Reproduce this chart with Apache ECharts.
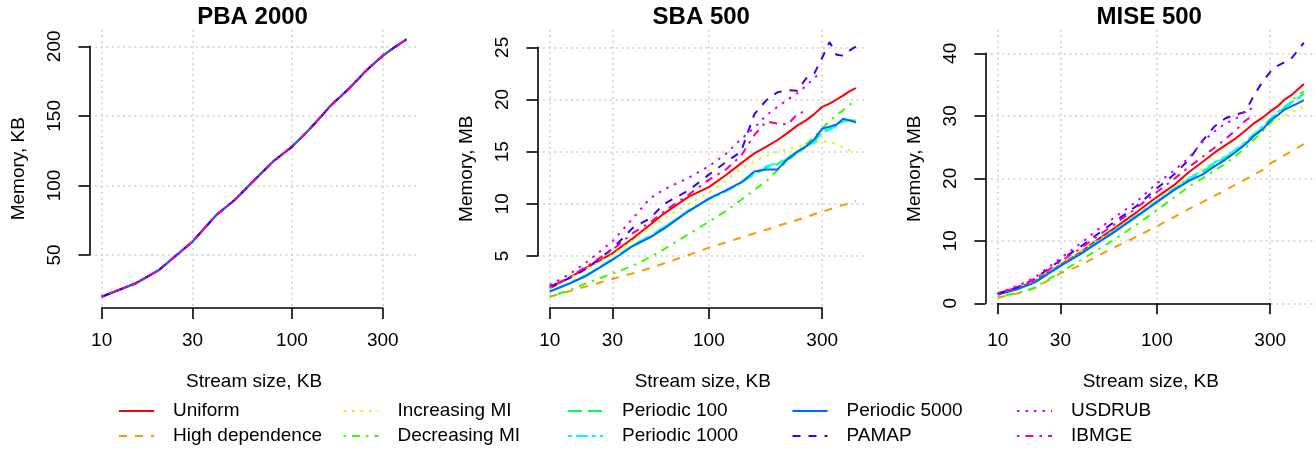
<!DOCTYPE html>
<html>
<head>
<meta charset="utf-8">
<script src="https://cdn.jsdelivr.net/npm/echarts@6/dist/echarts.min.js"></script>
<style>
  html, body { margin: 0; padding: 0; background: #ffffff; }
  #chart { width: 1316px; height: 450px; }
</style>
</head>
<body>
<div id="chart"></div>
<script>
// Stream sizes (KB) shared by every curve
const streamSizes = [10, 15, 20, 30, 40, 50, 60, 80, 100, 120, 140, 160, 180, 200, 220, 240, 260, 280, 300, 320, 340, 360, 380, 400];
const xTickValues = [10, 30, 100, 300];

const seriesNames = ['Uniform', 'High dependence', 'Increasing MI', 'Decreasing MI', 'Periodic 100',
                     'Periodic 1000', 'Periodic 5000', 'PAMAP', 'USDRUB', 'IBMGE'];
const seriesColors = ['#FF0000', '#FF9900', '#CCFF00', '#33FF00', '#00FF66',
                      '#00FFFF', '#0066FF', '#3300FF', '#CC00FF', '#FF0099'];
const seriesLineTypes = ['solid', 'dashed', 'dotted', 'dotdash', 'longdash',
                         'twodash', 'solid', 'dashed', 'dotted', 'dotdash'];

// PBA 2000: memory (KB) is the same for every stream type
const pbaMemory = [20, 29.5, 39.2, 59.6, 78.7, 89.5, 100.5, 117.5, 127.8, 138.5, 148.5, 157.5,
                   163.9, 169.9, 175.7, 181.2, 185.7, 189.6, 193.2, 196, 198.6, 200.9, 203, 205];

// SBA 500: memory (MB)
const sbaUniform  = [1.9, 2.96, 3.88, 5.26, 6.69, 7.97, 9.09, 10.69, 11.6, 12.76, 13.88, 14.84, 15.48, 16.12, 16.8, 17.5, 18.0, 18.6, 19.3, 19.6, 20.0, 20.4, 20.8, 21.1];
const sbaHighDep  = [1.1, 1.65, 2.09, 2.8, 3.34, 3.82, 4.3, 5.1, 5.8, 6.31, 6.76, 7.17, 7.52, 7.88, 8.17, 8.45, 8.72, 9.0, 9.24, 9.47, 9.68, 9.89, 10.08, 10.27];
const sbaIncMI    = [1.9, 2.9, 3.8, 5.1, 6.5, 7.7, 8.6, 10.0, 11.1, 12.2, 13.4, 14.1, 14.6, 15.0, 15.2, 15.5, 15.7, 15.9, 16.0, 15.95, 15.7, 15.4, 15.1, 14.8];
const sbaDecMI    = [1.1, 1.74, 2.38, 3.31, 4.07, 4.87, 5.67, 7.11, 8.29, 9.31, 10.37, 11.33, 12.19, 13.24, 14.1, 14.94, 15.7, 16.44, 17.2, 17.94, 18.5, 18.99, 19.5, 19.95];
const sbaP100     = [1.6, 2.4, 3.15, 4.7, 6.05, 6.9, 7.8, 9.3, 10.5, 11.3, 12.0, 12.8, 13.5, 13.8, 14.3, 14.9, 15.4, 16.0, 16.9, 17.2, 17.5, 17.9, 18.0, 18.0];
const sbaP1000    = [1.65, 2.45, 3.2, 4.7, 6.0, 6.85, 7.75, 9.4, 10.4, 11.2, 12.0, 12.9, 13.6, 13.9, 14.4, 15.0, 15.5, 15.9, 16.8, 17.1, 17.5, 17.9, 18.0, 17.9];
const sbaP5000    = [1.58, 2.38, 3.11, 4.62, 5.96, 6.76, 7.65, 9.31, 10.5, 11.3, 12.05, 13.1, 13.3, 13.3, 14.3, 15.0, 15.5, 16.2, 17.2, 17.4, 17.6, 18.15, 18.0, 17.8];
const sbaPAMAP    = [2.06, 2.9, 3.8, 5.7, 7.7, 8.6, 10.0, 11.3, 12.8, 14.0, 15.0, 18.6, 19.95, 20.7, 20.9, 20.85, 22.0, 22.5, 24.0, 25.5, 24.3, 24.2, 24.7, 25.06];
const sbaUSDRUB   = [2.2, 3.3, 4.4, 6.4, 8.6, 10.5, 11.4, 12.5, 13.6, 14.8, 16.2, 17.3, 18.5, 19.3, 20.0, 20.6, 21.3, 22.1, 22.6, null, null, null, null, null];
const sbaIBMGE    = [2.0, 3.0, 4.0, 5.6, 7.2, 8.2, 9.3, 10.9, 12.3, 13.3, 14.6, 16.6, 17.9, 17.7, 17.6, 18.6, 18.9, null, null, null, null, null, null, null];

// MISE 500: memory (MB)
const miseUniform = [1.6, 2.5, 3.5, 6.2, 8.2, 10.2, 11.8, 14.6, 17.0, 18.9, 21.0, 22.6, 24.1, 25.3, 26.4, 27.6, 28.8, 29.7, 30.7, 31.5, 32.6, 33.3, 34.2, 35.1];
const miseHighDep = [0.9, 1.6, 2.4, 4.8, 6.1, 7.6, 8.8, 10.7, 12.3, 13.8, 15.1, 16.2, 17.2, 18.1, 19.0, 19.8, 20.6, 21.3, 22.4, 23.0, 23.7, 24.3, 24.9, 25.5];
const miseIncMI   = [1.5, 2.5, 3.6, 6.3, 8.3, 10.1, 11.5, 14.2, 16.5, 18.5, 20.0, 21.6, 22.6, 23.5, 24.5, 25.5, 26.6, 27.5, 28.6, 29.3, 30.0, 30.5, 31.0, 31.5];
const miseDecMI   = [1.0, 1.7, 2.5, 5.0, 6.9, 8.6, 10.0, 12.6, 14.9, 16.9, 18.7, 20.0, 21.3, 22.3, 23.6, 24.8, 26.2, 27.5, 28.9, 30.0, 31.3, 32.4, 33.3, 33.9];
const miseP100    = [1.4, 2.3, 3.3, 6.0, 8.0, 9.8, 11.3, 14.0, 16.3, 18.2, 19.9, 21.0, 22.3, 23.3, 24.4, 25.6, 27.0, 28.1, 29.4, 30.4, 31.3, 32.0, 32.8, 33.5];
const miseP1000   = [1.45, 2.35, 3.35, 6.1, 8.0, 9.9, 11.4, 14.1, 16.4, 18.4, 20.0, 21.2, 22.5, 23.5, 24.6, 25.8, 27.1, 28.3, 29.5, 30.6, 31.5, 32.2, 32.8, 33.2];
const miseP5000   = [1.4, 2.3, 3.3, 6.0, 7.9, 9.7, 11.2, 13.9, 16.2, 18.1, 19.6, 20.6, 21.9, 23.0, 24.2, 25.4, 26.8, 27.8, 29.2, 30.1, 31.0, 31.5, 32.0, 32.5];
const misePAMAP   = [1.5, 2.6, 3.9, 6.9, 9.1, 11.1, 12.8, 15.6, 18.4, 20.6, 23.0, 26.0, 28.3, 29.6, 30.2, 30.6, 33.3, 35.4, 37.0, 38.0, 38.6, 39.2, 40.4, 41.7];
const miseUSDRUB  = [1.6, 2.8, 4.1, 7.2, 9.6, 11.8, 13.5, 16.3, 19.2, 21.2, 23.3, 25.8, 27.5, 28.8, 29.5, 30.8, 31.3, null, null, null, null, null, null, null];
const miseIBMGE   = [1.5, 2.6, 3.8, 6.7, 8.8, 10.8, 12.4, 15.3, 17.8, 19.9, 21.8, 23.4, 24.9, 26.3, 27.7, 29.2, 30.2, null, null, null, null, null, null, null];

const sbaValues  = [sbaUniform, sbaHighDep, sbaIncMI, sbaDecMI, sbaP100, sbaP1000, sbaP5000, sbaPAMAP, sbaUSDRUB, sbaIBMGE];
const miseValues = [miseUniform, miseHighDep, miseIncMI, miseDecMI, miseP100, miseP1000, miseP5000, misePAMAP, miseUSDRUB, miseIBMGE];
const pbaValues  = seriesNames.map(() => pbaMemory);

// R-style dash patterns (lwd 2)
const dashPatterns = {
  solid: 'solid',
  dashed: [8, 8],
  dotted: [2.5, 6],
  dotdash: [2.5, 6, 8, 6],
  longdash: [14, 6],
  twodash: [4, 4, 12, 4]
};

const FONT = 'Liberation Sans, Arial, Helvetica, sans-serif';
const PLOT_TOP = 29.5, PLOT_BOTTOM = 308;

// x positions: log scale for PBA, squared-log scale for SBA / MISE
const logScale   = { fwd: v => Math.log10(v), inv: t => Math.pow(10, t) };
const logSqScale = { fwd: v => Math.pow(Math.log10(v), 2), inv: t => Math.pow(10, Math.sqrt(t)) };

const panels = [
  { title: 'PBA 2000', yName: 'Memory, KB', scale: logScale,   xLim: [0.936, 2.666], yLim: [11.9, 212.1],
    yTicks: [50, 100, 150, 200], left: 89.5, right: 418.7, values: pbaValues },
  { title: 'SBA 500',  yName: 'Memory, MB', scale: logSqScale, xLim: [0.768, 7.002], yLim: [0.017, 26.71],
    yTicks: [5, 10, 15, 20, 25], left: 537.4, right: 868.1, values: sbaValues },
  { title: 'MISE 500', yName: 'Memory, MB', scale: logSqScale, xLim: [0.768, 7.002], yLim: [-0.75, 43.81],
    yTicks: [0, 10, 20, 30, 40], left: 985.4, right: 1316.1, values: miseValues }
];

const grids = [], xAxes = [], yAxes = [], titles = [], series = [];
const axisColor = '#000000';
const gridLine = { show: true, lineStyle: { color: '#cfcfcf', width: 1.5, type: [2, 3.6] } };

// plot regions (hold the curves and the dotted reference grid)
panels.forEach((p, k) => {
  const xTicksT = xTickValues.map(p.scale.fwd);
  grids.push({ left: p.left, top: PLOT_TOP, width: p.right - p.left, height: PLOT_BOTTOM - PLOT_TOP,
               outerBoundsMode: 'none', containLabel: false });
  xAxes.push({
    type: 'value', gridIndex: k, min: p.xLim[0], max: p.xLim[1],
    axisLine: { show: false },
    axisTick: { show: false, customValues: xTicksT },
    axisLabel: { show: false, customValues: xTicksT },
    splitLine: gridLine,
    name: 'Stream size, KB', nameLocation: 'middle', nameGap: 64,
    nameTextStyle: { fontSize: 19, color: axisColor, fontFamily: FONT }
  });
  yAxes.push({
    type: 'value', gridIndex: k, min: p.yLim[0], max: p.yLim[1],
    axisLine: { show: false },
    axisTick: { show: false, customValues: p.yTicks },
    axisLabel: { show: false, customValues: p.yTicks },
    splitLine: gridLine,
    name: p.yName, nameLocation: 'middle', nameRotate: 90, nameGap: 61,
    nameTextStyle: { fontSize: 19, color: axisColor, fontFamily: FONT }
  });
  titles.push({
    text: p.title, left: (p.left + p.right) / 2 - 1.5, top: 5, textAlign: 'center', padding: 0,
    textStyle: { fontSize: 24, fontWeight: 'bold', color: axisColor, fontFamily: FONT }
  });
  p.values.forEach((vals, i) => {
    series.push({
      type: 'line', name: seriesNames[i], xAxisIndex: k, yAxisIndex: k,
      data: streamSizes.map((s, j) => vals[j] == null ? null : [p.scale.fwd(s), vals[j]]).filter(d => d),
      symbol: 'none', showSymbol: false, silent: true, clip: true,
      lineStyle: { color: seriesColors[i], width: 2, type: dashPatterns[seriesLineTypes[i]], cap: 'butt' },
      itemStyle: { color: seriesColors[i] }
    });
  });
});

// axis frames: lines only span the first to the last tick, as in base R graphics
panels.forEach((p, k) => {
  const w = p.right - p.left, h = PLOT_BOTTOM - PLOT_TOP;
  const px = v => p.left + (p.scale.fwd(v) - p.xLim[0]) / (p.xLim[1] - p.xLim[0]) * w;
  const py = v => PLOT_TOP + (p.yLim[1] - v) / (p.yLim[1] - p.yLim[0]) * h;
  const x0 = px(xTickValues[0]), x1 = px(xTickValues[xTickValues.length - 1]);
  const yLo = p.yTicks[0], yHi = p.yTicks[p.yTicks.length - 1];
  const xTicksT = xTickValues.map(p.scale.fwd);
  const gi = panels.length + k;
  grids.push({ left: x0, width: x1 - x0, top: py(yHi), height: py(yLo) - py(yHi),
               outerBoundsMode: 'none', containLabel: false });
  const lineStyle = { color: axisColor, width: 1.6 };
  xAxes.push({
    type: 'value', gridIndex: gi, min: xTicksT[0], max: xTicksT[xTicksT.length - 1],
    position: 'bottom', offset: PLOT_BOTTOM - py(yLo),
    axisLine: { show: true, lineStyle },
    axisTick: { show: true, length: 11, lineStyle, customValues: xTicksT },
    axisLabel: { show: true, customValues: xTicksT, margin: 23.5, fontSize: 19, color: axisColor, fontFamily: FONT,
                 formatter: t => String(Math.round(p.scale.inv(t))) },
    splitLine: { show: false }
  });
  yAxes.push({
    type: 'value', gridIndex: gi, min: yLo, max: yHi, interval: p.yTicks[1] - p.yTicks[0],
    position: 'left', offset: x0 - p.left,
    axisLine: { show: true, lineStyle },
    axisTick: { show: true, length: 11, lineStyle },
    axisLabel: { show: true, rotate: 90, margin: 25, fontSize: 19, color: axisColor, fontFamily: FONT },
    splitLine: { show: false }
  });
});

// legend: five columns of two entries, filled column by column
const legends = [0, 1, 2, 3, 4].map(c => ({
  orient: 'vertical', left: 118 + 224.5 * c, top: 401, padding: 0,
  itemWidth: 35, itemHeight: 14, itemGap: 5, selectedMode: false,
  itemStyle: { opacity: 0 },
  data: [seriesNames[2 * c], seriesNames[2 * c + 1]],
  textStyle: { fontSize: 19, color: axisColor, fontFamily: FONT, lineHeight: 20, padding: [0, 0, 0, 14] }
}));

const chart = echarts.init(document.getElementById('chart'), null, { renderer: 'canvas' });
chart.setOption({
  animation: false,
  backgroundColor: '#ffffff',
  title: titles,
  legend: legends,
  grid: grids,
  xAxis: xAxes,
  yAxis: yAxes,
  series: series
});
</script>
</body>
</html>
